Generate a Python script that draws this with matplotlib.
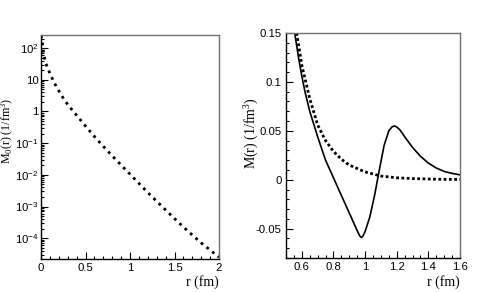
import numpy as np
import matplotlib
matplotlib.use("Agg")
import matplotlib.pyplot as plt
from matplotlib.ticker import FixedLocator, MultipleLocator, FuncFormatter, LogLocator

plt.rcParams['font.family'] = ['Liberation Sans', 'DejaVu Sans']
plt.rcParams['mathtext.default'] = 'regular'

# left panel: M0(r), log scale
r_left = [0.0, 0.01, 0.026, 0.05, 0.1, 0.15, 0.2, 0.25, 0.3, 0.4, 0.5, 0.6,
          0.7, 0.8, 0.9, 1.0, 1.2, 1.4, 1.6, 1.8, 2.0]
log_m0 = [2.4, 2.3, 1.9, 1.55, 1.2, 0.9, 0.65, 0.42, 0.22, -0.12, -0.46, -0.79,
          -1.1, -1.4, -1.69, -1.98, -2.56, -3.11, -3.65, -4.15, -4.6]
m0 = [10 ** v for v in log_m0]

# right panel: M(r) solid and dotted
r_solid = [0.555, 0.58, 0.60, 0.62, 0.65, 0.70, 0.75, 0.80, 0.85, 0.90, 0.95,
           0.965, 0.975, 0.985, 1.00, 1.03, 1.06, 1.09, 1.12, 1.15, 1.17, 1.185,
           1.20, 1.22, 1.25, 1.30, 1.35, 1.40, 1.45, 1.50, 1.55, 1.60]
m_solid = [0.150, 0.124, 0.106, 0.090, 0.070, 0.044, 0.020, 0.002, -0.016, -0.034,
           -0.052, -0.057, -0.059, -0.058, -0.053, -0.038, -0.016, 0.010, 0.035,
           0.050, 0.054, 0.055, 0.054, 0.051, 0.044, 0.033, 0.024, 0.017, 0.012,
           0.0085, 0.0065, 0.005]
r_dot = [0.567, 0.6, 0.65, 0.7, 0.75, 0.8, 0.85, 0.9, 1.0, 1.1, 1.2, 1.3, 1.4, 1.5, 1.6]
m_dot = [0.15, 0.117, 0.083, 0.056, 0.040, 0.029, 0.021, 0.015, 0.008, 0.0038,
         0.002, 0.0012, 0.0007, 0.0004, 0.0003]

log_ticks = [1e-4, 1e-3, 1e-2, 1e-1, 1, 10, 100]
log_labels = ['$10^{-4}$', '$10^{-3}$', '$10^{-2}$', '$10^{-1}$', '1', '10', '$10^{2}$']

W, H = 491, 292
fig = plt.figure(figsize=(W / 100, H / 100), dpi=100)
ax1 = fig.add_axes([41 / W, (H - 259) / H, 178 / W, 224 / H])
ax2 = fig.add_axes([286 / W, (H - 258) / H, 174 / W, 225 / H])

tick_font = 8.2
title_font = dict(family=['Liberation Serif', 'DejaVu Serif'], size=10)


def style(ax):
    for s in ['top', 'right']:
        ax.spines[s].set_color('#707070')
    for s in ['left', 'bottom']:
        ax.spines[s].set_color('black')
    for s in ax.spines.values():
        s.set_linewidth(1.0)
    ax.tick_params(which='both', direction='in', top=False, right=False,
                   labelsize=tick_font, pad=3, width=0.8)
    ax.tick_params(which='major', length=5)
    ax.tick_params(which='minor', length=2.5)


# left
ax1.plot(r_left, m0, color='black', lw=2.0, linestyle=(0, (1, 1.6)))
ax1.set_yscale('log')
ax1.set_xlim(0, 2)
ax1.set_ylim(2.2e-5, 260)
ax1.yaxis.set_major_locator(FixedLocator(log_ticks))
ax1.yaxis.set_major_formatter(FuncFormatter(lambda v, p: log_labels[log_ticks.index(v)] if v in log_ticks else ''))
ax1.yaxis.set_minor_locator(LogLocator(base=10, subs=np.arange(2, 10), numticks=20))
ax1.yaxis.set_minor_formatter(FuncFormatter(lambda v, p: ''))
ax1.xaxis.set_major_locator(MultipleLocator(0.5))
ax1.xaxis.set_minor_locator(MultipleLocator(0.1))
ax1.xaxis.set_major_formatter(FuncFormatter(lambda v, p: f'{v:g}'))
style(ax1)
ax1.tick_params(axis='y', which='major', pad=1.5)
ax1.set_xlabel('r (fm)', va='center', ha='right', **title_font)
ax1.xaxis.set_label_coords(1.0, -0.103)
ax1.set_ylabel('M$_0$(r) (1/fm$^3$)', va='center',
               family=['Liberation Serif', 'DejaVu Serif'], size=8.6)
ax1.yaxis.set_label_coords(-0.187, 0.57)

# right
ax2.plot(r_solid, m_solid, color='black', lw=1.2)
ax2.plot(r_dot, m_dot, color='black', lw=2.0, linestyle=(0, (1, 0.9)))
ax2.set_xlim(0.5, 1.6)
ax2.set_ylim(-0.08, 0.15)
ax2.xaxis.set_major_locator(MultipleLocator(0.2))
ax2.xaxis.set_minor_locator(MultipleLocator(0.05))
ax2.yaxis.set_major_locator(MultipleLocator(0.05))
ax2.yaxis.set_minor_locator(MultipleLocator(0.01))
fmt = FuncFormatter(lambda v, p: f'{round(v, 4):g}')
ax2.xaxis.set_major_formatter(fmt)
ax2.yaxis.set_major_formatter(fmt)
style(ax2)
ax2.set_xlabel('r (fm)', va='center', ha='right', **title_font)
ax2.xaxis.set_label_coords(1.0, -0.107)
ax2.set_ylabel('M(r) (1/fm$^3$)', va='center', **title_font)
ax2.yaxis.set_label_coords(-0.195, 0.553)

fig.savefig('out.png', dpi=100)
